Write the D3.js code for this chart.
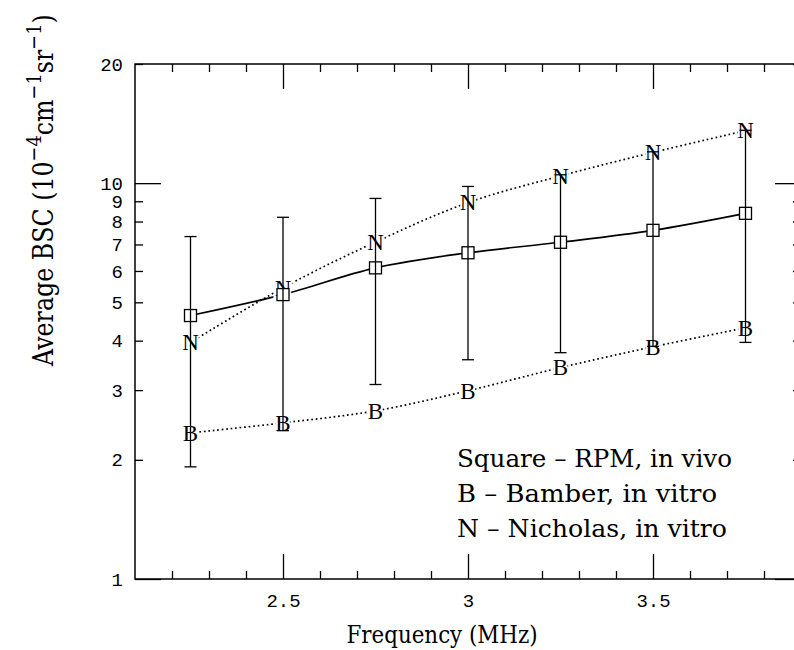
<!DOCTYPE html>
<html>
<head>
<meta charset="utf-8">
<script src="https://cdn.jsdelivr.net/npm/d3@7"></script>
<style>
  body { margin: 0; background: #fff; }
  svg { display: block; }
  .tick text { font-family: "Liberation Mono", monospace; fill: #000; }
  .tick line { stroke: #000; stroke-width: 1.3; }
  .title { font-family: "DejaVu Serif", "Liberation Serif", serif; fill: #000; }
</style>
</head>
<body>
<svg id="chart" width="794" height="650"></svg>
<script>
// values
const freqs = [2.25, 2.5, 2.75, 3.0, 3.25, 3.5, 3.75];
const rpmMean = [4.63, 5.23, 6.11, 6.67, 7.09, 7.60, 8.39];
const rpmLow = [1.92, 2.37, 3.10, 3.58, 3.73, 3.87, 3.96];
const rpmHigh = [7.33, 8.20, 9.15, 9.81, 10.5, 12.0, 13.6];
const bamber = [2.34, 2.48, 2.66, 2.99, 3.42, 3.86, 4.31];
const nicholas = [3.96, 5.44, 7.10, 8.93, 10.43, 11.96, 13.57];

const xMajor = [2.5, 3, 3.5];
const xMinor = d3.range(22, 39).map(d => d / 10).filter(d => !xMajor.includes(d));
const yMajor = [1, 10];
const yMinor = [2, 3, 4, 5, 6, 7, 8, 9, 20];

const legendLines = ["Square \u2013 RPM, in vivo", "B \u2013 Bamber, in vitro", "N \u2013 Nicholas, in vitro"];

const svg = d3.select("#chart");

const x = d3.scaleLinear().domain([2.1, 3.9]).range([135, 801]);
const y = d3.scaleLog().domain([1, 20]).range([579, 64]);

const x0 = x.range()[0], x1 = x.range()[1];
const y0 = y.range()[1], y1 = y.range()[0];

// axes (ticks point inward)
function addAxis(axis, tx, ty) {
  const g = svg.append("g").attr("transform", `translate(${tx},${ty})`).call(axis);
  g.select(".domain").remove();
  return g;
}
const fmt = d => d3.format("")(d);

addAxis(d3.axisLeft(y).tickValues(yMajor).tickSizeInner(-26).tickSizeOuter(0).tickPadding(12).tickFormat(fmt), x0, 0)
  .selectAll("text").style("font-size", "19px");
addAxis(d3.axisLeft(y).tickValues(yMinor).tickSizeInner(-8).tickSizeOuter(0).tickPadding(12).tickFormat(fmt), x0, 0)
  .selectAll("text").style("font-size", "19px");
addAxis(d3.axisRight(y).tickValues(yMajor).tickSizeInner(-26).tickSizeOuter(0).tickFormat(""), x1, 0);
addAxis(d3.axisRight(y).tickValues(yMinor).tickSizeInner(-8).tickSizeOuter(0).tickFormat(""), x1, 0);

addAxis(d3.axisBottom(x).tickValues(xMajor).tickSizeInner(-25).tickSizeOuter(0).tickPadding(15).tickFormat(fmt), 0, y1)
  .selectAll("text").style("font-size", "19px");
addAxis(d3.axisBottom(x).tickValues(xMinor).tickSizeInner(-8).tickSizeOuter(0).tickFormat(""), 0, y1);
addAxis(d3.axisTop(x).tickValues(xMajor).tickSizeInner(-25).tickSizeOuter(0).tickFormat(""), 0, y0);
addAxis(d3.axisTop(x).tickValues(xMinor).tickSizeInner(-8).tickSizeOuter(0).tickFormat(""), 0, y0);

// frame
svg.append("rect")
  .attr("x", x0).attr("y", y0)
  .attr("width", x1 - x0).attr("height", y1 - y0)
  .attr("fill", "none").attr("stroke", "#000").attr("stroke-width", 1.5);

// lines
const line = vals => d3.line()
  .x((d, i) => x(freqs[i]))
  .y(d => y(d))
  .curve(d3.curveCatmullRom)(vals);

svg.append("path").attr("d", line(rpmMean))
  .attr("fill", "none").attr("stroke", "#000").attr("stroke-width", 1.7);
[bamber, nicholas].forEach(vals => {
  svg.append("path").attr("d", line(vals))
    .attr("fill", "none").attr("stroke", "#000").attr("stroke-width", 1.7)
    .attr("stroke-dasharray", "1.7,2.8");
});

// letter markers
function letters(vals, ch) {
  svg.append("g").selectAll("text").data(vals).join("text")
    .attr("x", (d, i) => x(freqs[i]))
    .attr("y", d => y(d))
    .attr("dy", "0.34em")
    .attr("text-anchor", "middle")
    .attr("font-family", "Liberation Serif, serif")
    .attr("font-size", 23)
    .attr("fill", "#000")
    .attr("stroke", "#fff").attr("stroke-width", 4).attr("paint-order", "stroke")
    .text(ch);
}
letters(bamber, "B");
letters(nicholas, "N");

// square markers
svg.append("g").selectAll("rect").data(rpmMean).join("rect")
  .attr("x", (d, i) => x(freqs[i]) - 6)
  .attr("y", d => y(d) - 6)
  .attr("width", 12).attr("height", 12)
  .attr("fill", "#fff").attr("stroke", "#000").attr("stroke-width", 1.3);

// error bars
const eb = svg.append("g").attr("stroke", "#000").attr("stroke-width", 1.3);
freqs.forEach((f, i) => {
  const cx = x(f);
  eb.append("line").attr("x1", cx).attr("x2", cx).attr("y1", y(rpmLow[i])).attr("y2", y(rpmHigh[i]));
  [rpmLow[i], rpmHigh[i]].forEach(v => {
    eb.append("line").attr("x1", cx - 6).attr("x2", cx + 6).attr("y1", y(v)).attr("y2", y(v));
  });
});

// legend
svg.append("g").selectAll("text").data(legendLines).join("text")
  .attr("class", "title")
  .attr("x", 457)
  .attr("y", (d, i) => 467 + i * 35)
  .attr("font-size", 24)
  .attr("textLength", (d, i) => [275, 260, 270][i])
  .attr("lengthAdjust", "spacingAndGlyphs")
  .text(d => d);

// axis titles
svg.append("text").attr("class", "title")
  .attr("x", 442).attr("y", 643)
  .attr("text-anchor", "middle")
  .attr("font-size", 24)
  .attr("textLength", 191).attr("lengthAdjust", "spacingAndGlyphs")
  .text("Frequency (MHz)");

const yt = svg.append("text").attr("class", "title")
  .attr("font-size", 28);
yt.append("tspan").text("Average BSC (10");
yt.append("tspan").attr("dy", -12).attr("font-size", 21).text("\u22124");
yt.append("tspan").attr("dy", 12).text("cm");
yt.append("tspan").attr("dy", -12).attr("font-size", 21).text("\u22121");
yt.append("tspan").attr("dy", 12).text("sr");
yt.append("tspan").attr("dy", -12).attr("font-size", 21).text("\u22121");
yt.append("tspan").attr("dy", 12).text(")");
// squeeze along the reading direction to the reference's span
const ytLen = yt.node().getComputedTextLength();
yt.attr("transform", `translate(53,366) rotate(-90) scale(${352 / ytLen},1)`);
</script>
</body>
</html>
